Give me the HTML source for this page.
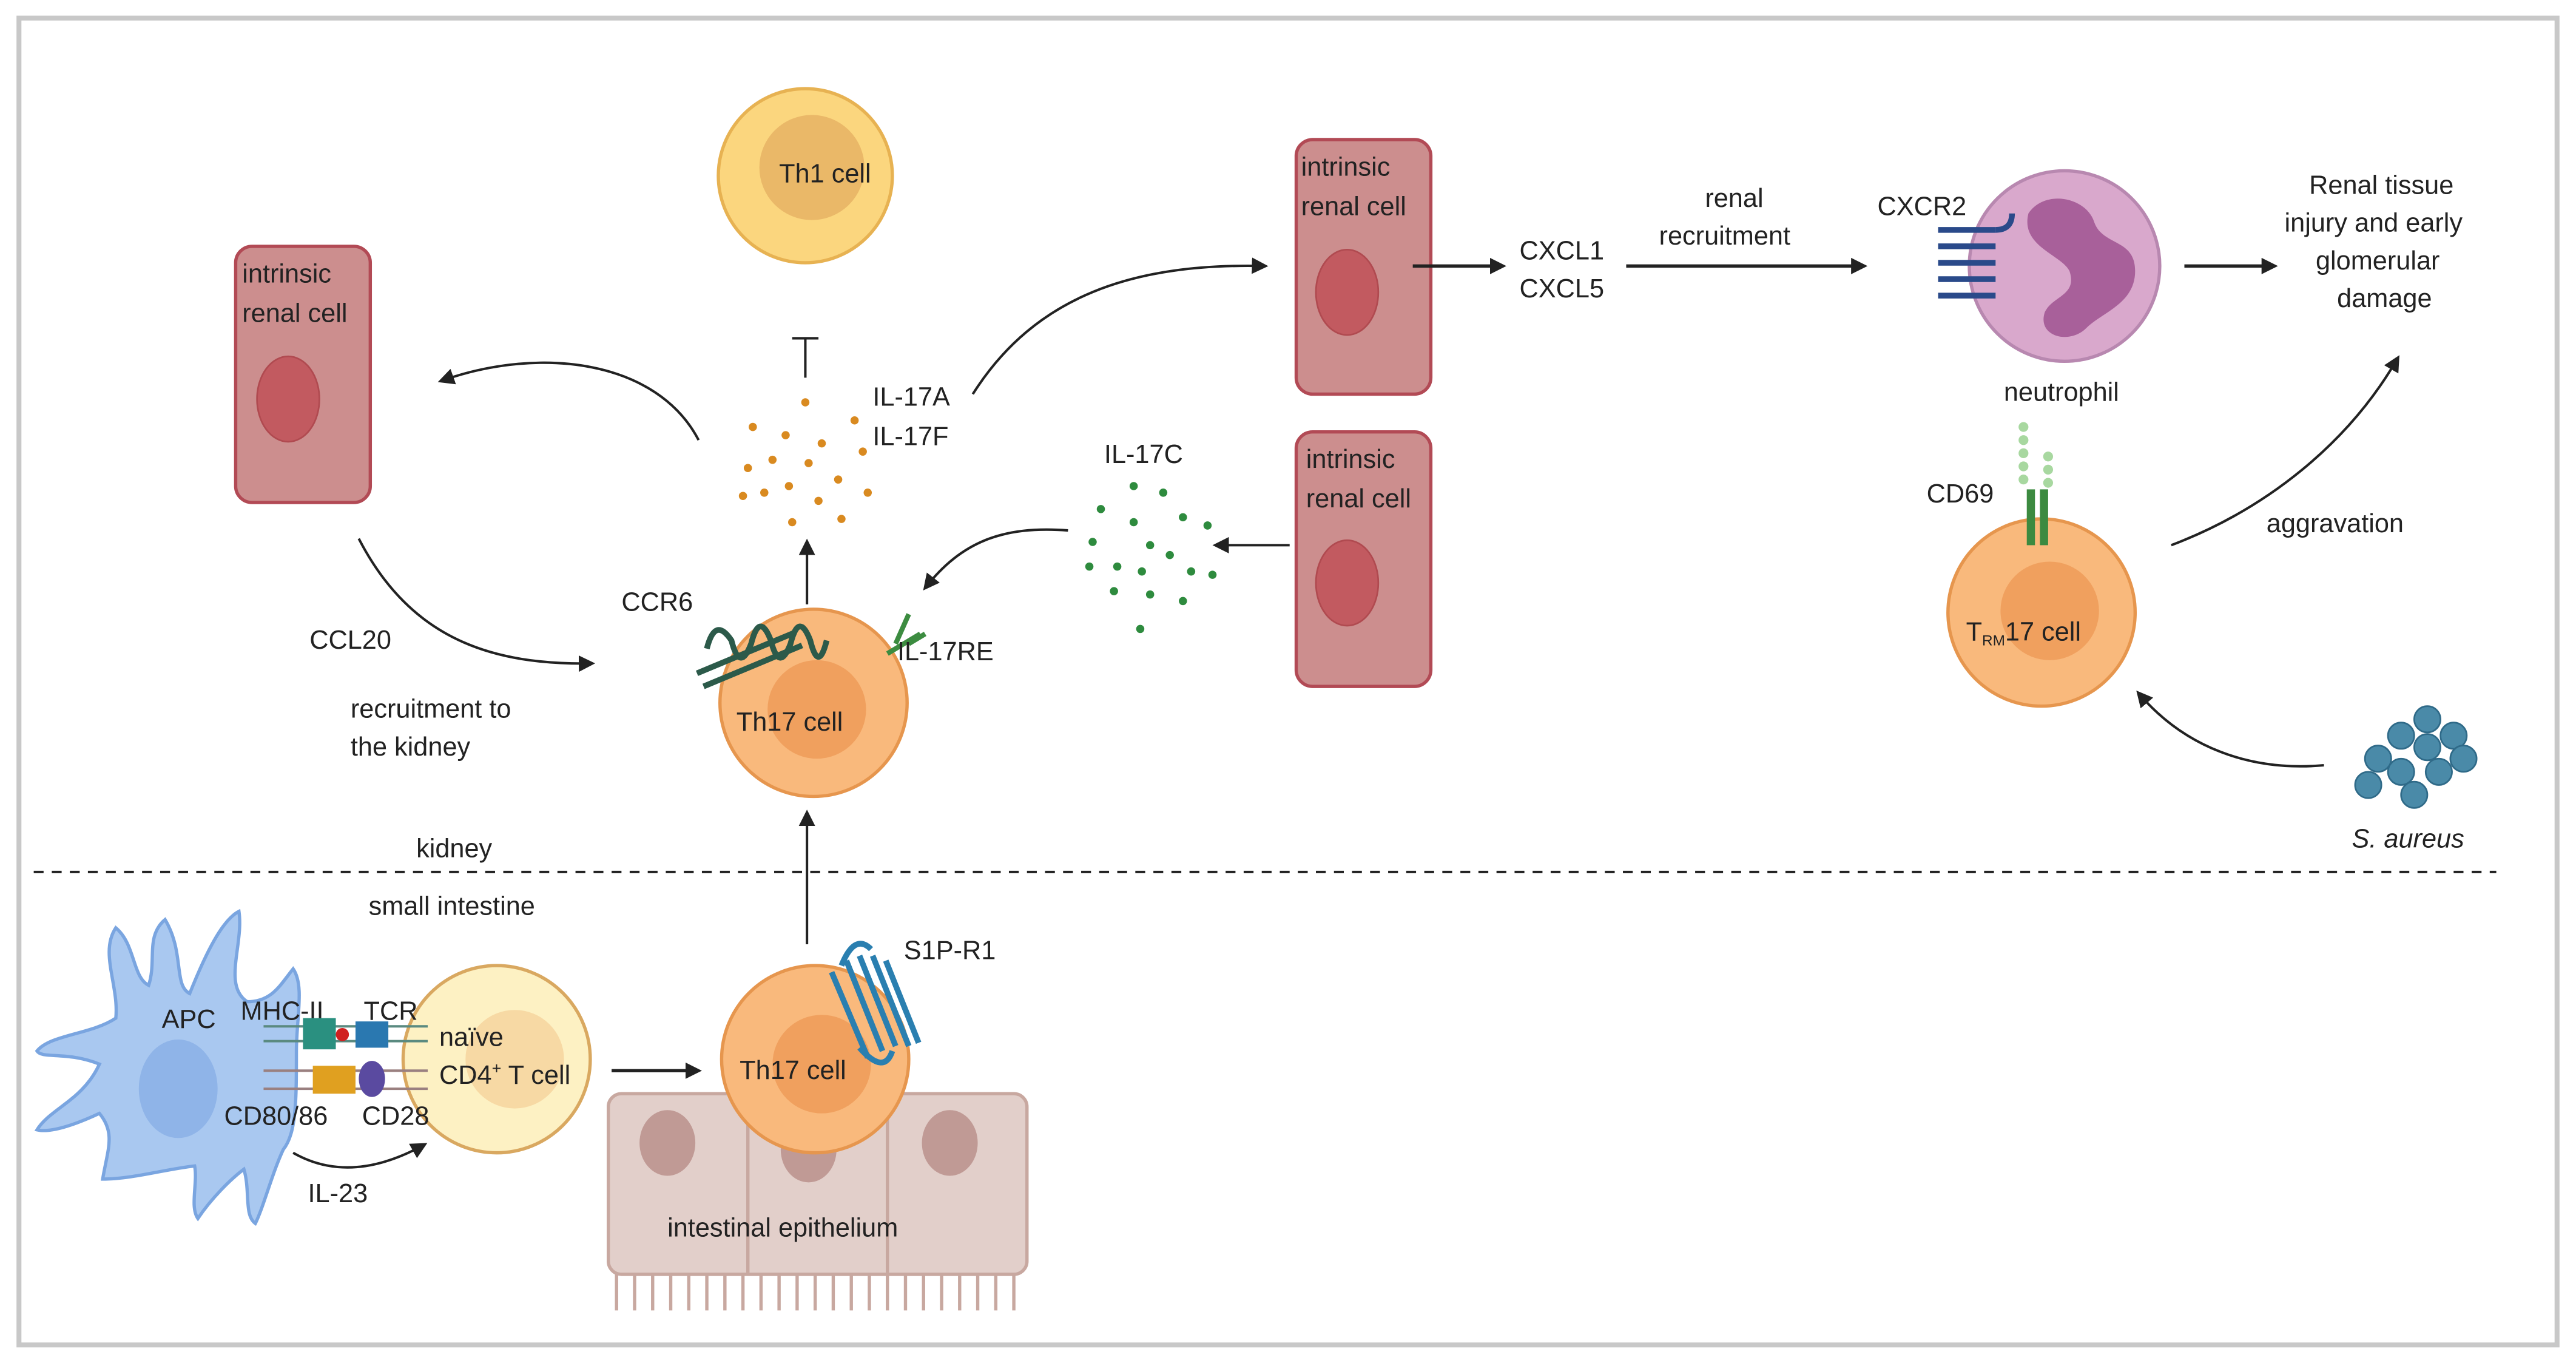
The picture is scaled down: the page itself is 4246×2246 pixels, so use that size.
<!DOCTYPE html>
<html><head><meta charset="utf-8"><style>
html,body{margin:0;padding:0;background:#fff;width:4246px;height:2246px;overflow:hidden}
svg{display:block}
text{font-family:"Liberation Sans",sans-serif;fill:#222;font-size:16px}
</style></head><body>
<svg width="4246" height="2246" viewBox="0 0 1568 830" xmlns="http://www.w3.org/2000/svg">
<defs>
<marker id="ah" markerWidth="10" markerHeight="10" refX="8" refY="5" orient="auto" markerUnits="userSpaceOnUse"><path d="M0,0 L10,5 L0,10 Z" fill="#222"/></marker>
</defs>
<rect x="0" y="0" width="1568" height="830" fill="#fff"/>
<rect x="11" y="11" width="1546" height="808" fill="none" stroke="#c8c8c8" stroke-width="3"/>
<line x1="20" y1="531" x2="1520" y2="531" stroke="#222" stroke-width="1.5" stroke-dasharray="6,5"/>
<text x="253" y="522">kidney</text>
<text x="224" y="557">small intestine</text>

<g stroke="#b24a55" stroke-width="2" fill="#cc8e8e">
<rect x="143" y="150" width="82" height="156" rx="10"/>
<rect x="789" y="85" width="82" height="155" rx="10"/>
<rect x="789" y="263" width="82" height="155" rx="10"/>
</g>
<g fill="#c25a60" stroke="#b04a50">
<ellipse cx="175" cy="243" rx="19" ry="26"/>
<ellipse cx="820" cy="178" rx="19" ry="26"/>
<ellipse cx="820" cy="355" rx="19" ry="26"/>
</g>
<text x="147" y="172">intrinsic</text><text x="147" y="196">renal cell</text>
<text x="792" y="107">intrinsic</text><text x="792" y="131">renal cell</text>
<text x="795" y="285">intrinsic</text><text x="795" y="309">renal cell</text>

<circle cx="490" cy="107" r="53" fill="#fbd67e" stroke="#e7b252" stroke-width="2"/>
<circle cx="494" cy="102" r="32" fill="#eab868"/>
<text x="474" y="111">Th1 cell</text>
<line x1="490" y1="206" x2="490" y2="230" stroke="#222" stroke-width="1.5"/>
<line x1="482" y1="206" x2="498" y2="206" stroke="#222" stroke-width="1.5"/>

<g fill="#d98a20">
<circle cx="490" cy="245" r="2.5"/><circle cx="520" cy="256" r="2.5"/><circle cx="458" cy="260" r="2.5"/><circle cx="478" cy="265" r="2.5"/><circle cx="500" cy="270" r="2.5"/><circle cx="470" cy="280" r="2.5"/><circle cx="492" cy="282" r="2.5"/><circle cx="525" cy="275" r="2.5"/><circle cx="455" cy="285" r="2.5"/><circle cx="510" cy="292" r="2.5"/><circle cx="480" cy="296" r="2.5"/><circle cx="465" cy="300" r="2.5"/><circle cx="498" cy="305" r="2.5"/><circle cx="452" cy="302" r="2.5"/><circle cx="528" cy="300" r="2.5"/><circle cx="482" cy="318" r="2.5"/><circle cx="512" cy="316" r="2.5"/>
</g>
<text x="531" y="247">IL-17A</text><text x="531" y="271">IL-17F</text>
<g fill="#2e8b3e">
<circle cx="690" cy="296" r="2.5"/><circle cx="708" cy="300" r="2.5"/><circle cx="670" cy="310" r="2.5"/><circle cx="690" cy="318" r="2.5"/><circle cx="720" cy="315" r="2.5"/><circle cx="735" cy="320" r="2.5"/><circle cx="665" cy="330" r="2.5"/><circle cx="700" cy="332" r="2.5"/><circle cx="712" cy="338" r="2.5"/><circle cx="680" cy="345" r="2.5"/><circle cx="725" cy="348" r="2.5"/><circle cx="663" cy="345" r="2.5"/><circle cx="695" cy="348" r="2.5"/><circle cx="738" cy="350" r="2.5"/><circle cx="678" cy="360" r="2.5"/><circle cx="700" cy="362" r="2.5"/><circle cx="720" cy="366" r="2.5"/><circle cx="694" cy="383" r="2.5"/>
</g>
<text x="672" y="282">IL-17C</text>

<circle cx="495" cy="428" r="57" fill="#f9b97c" stroke="#e6964e" stroke-width="2"/>
<circle cx="497" cy="432" r="30" fill="#f0a05e"/>
<text x="448" y="445">Th17 cell</text>
<g stroke="#2c5a4a" stroke-width="3.5" fill="none">
<path d="M430,395 q5,-20 15,-5 q5,20 12,2 q5,-20 12,-2 q5,20 12,2 q5,-20 12,-2 q5,20 10,0"/>
<path d="M424,410 l60,-25 M428,418 l60,-25"/>
</g>
<g stroke="#3c8c40" stroke-width="3" fill="none"><path d="M540,398 l20,-12 M545,392 l8,-18 M553,392 l10,-6"/></g>
<text x="378" y="372">CCR6</text>
<text x="546" y="402">IL-17RE</text>

<g fill="#e2cfca" stroke="#c8a8a0" stroke-width="2">
<rect x="370" y="666" width="255" height="110" rx="8"/>
</g>
<g stroke="#c8a8a0" stroke-width="2" fill="none">
<line x1="455" y1="668" x2="455" y2="775"/><line x1="540" y1="668" x2="540" y2="775"/>
<path d="M375,776 v22 M386,776 v22 M397,776 v22 M408,776 v22 M419,776 v22 M430,776 v22 M441,776 v22 M452,776 v22 M463,776 v22 M474,776 v22 M485,776 v22 M496,776 v22 M507,776 v22 M518,776 v22 M529,776 v22 M540,776 v22 M551,776 v22 M562,776 v22 M573,776 v22 M584,776 v22 M595,776 v22 M606,776 v22 M617,776 v22"/>
</g>
<g fill="#c09a95"><ellipse cx="406" cy="696" rx="17" ry="20"/><ellipse cx="578" cy="696" rx="17" ry="20"/><ellipse cx="492" cy="700" rx="17" ry="20"/></g>
<text x="406" y="753">intestinal epithelium</text>
<circle cx="496" cy="645" r="57" fill="#f9b97c" stroke="#e6964e" stroke-width="2"/>
<circle cx="500" cy="648" r="30" fill="#f0a05e"/>
<text x="450" y="657">Th17 cell</text>
<g stroke="#2a7fb0" stroke-width="3.5" fill="none">
<path d="M515,585 l22,55 M523,582 l22,55 M531,582 l22,55 M539,585 l20,50 M506,592 l22,52"/>
<path d="M512,588 q8,-20 18,-10 M543,640 q-5,15 -20,-2"/>
</g>
<text x="550" y="584">S1P-R1</text>
<line x1="491" y1="575" x2="491" y2="495" stroke="#222" stroke-width="1.5" marker-end="url(#ah)"/>
<line x1="491" y1="368" x2="491" y2="330" stroke="#222" stroke-width="1.5" marker-end="url(#ah)"/>

<circle cx="302" cy="645" r="57" fill="#fdf1c3" stroke="#d9a860" stroke-width="2"/>
<circle cx="313" cy="645" r="30" fill="#f7d9a4"/>
<text x="267" y="637">naïve</text><text x="267" y="660">CD4<tspan font-size="10" dy="-6">+</tspan><tspan dy="6"> T cell</tspan></text>
<line x1="372" y1="652" x2="425" y2="652" stroke="#222" stroke-width="2" marker-end="url(#ah)"/>

<path d="M60,648 C40,640 25,645 22,640 C30,630 55,630 70,620 C72,600 60,580 70,565 C82,575 80,595 90,600 C95,585 88,570 100,560 C112,580 105,600 115,605 C125,580 135,560 145,555 C148,575 135,600 150,610 C165,610 170,600 178,590 C185,600 180,620 180,640 C180,670 180,690 172,700 C165,715 160,735 155,745 C148,740 152,725 148,712 C140,718 128,730 120,742 C115,735 120,720 118,710 C100,712 80,718 62,718 C65,700 70,690 60,678 C45,685 30,690 22,688 C30,675 50,670 60,648 Z" fill="#a9c8f0" stroke="#7aa5e0" stroke-width="2"/>
<ellipse cx="108" cy="663" rx="24" ry="30" fill="#8fb4e8"/>
<text x="98" y="626">APC</text>
<text x="146" y="621">MHC-II</text><text x="221" y="621">TCR</text>
<text x="136" y="685">CD80/86</text><text x="220" y="685">CD28</text>
<g stroke="#5a8a80" stroke-width="1.5"><line x1="160" y1="625" x2="260" y2="625"/><line x1="160" y1="634" x2="260" y2="634"/></g>
<rect x="184" y="620" width="20" height="19" fill="#2a9080"/><circle cx="208" cy="630" r="4" fill="#d02020"/>
<rect x="216" y="622" width="20" height="16" fill="#2a78b0"/>
<g stroke="#9a8080" stroke-width="1.5"><line x1="160" y1="652" x2="260" y2="652"/><line x1="160" y1="663" x2="260" y2="663"/></g>
<rect x="190" y="649" width="26" height="17" fill="#e0a020"/>
<ellipse cx="226" cy="657" rx="8" ry="11" fill="#5a4aa0"/>
<path d="M178,702 q35,20 80,-5" stroke="#222" stroke-width="1.5" fill="none" marker-end="url(#ah)"/>
<text x="187" y="732">IL-23</text>

<path d="M425,268 C400,220 330,210 268,232" stroke="#222" stroke-width="1.5" fill="none" marker-end="url(#ah)"/>
<path d="M218,328 C250,390 300,405 360,404" stroke="#222" stroke-width="1.5" fill="none" marker-end="url(#ah)"/>
<text x="188" y="395">CCL20</text>
<text x="213" y="437">recruitment to</text><text x="213" y="460">the kidney</text>
<path d="M592,240 C630,180 690,160 770,162" stroke="#222" stroke-width="1.5" fill="none" marker-end="url(#ah)"/>
<path d="M650,323 C610,320 585,330 563,358" stroke="#222" stroke-width="1.5" fill="none" marker-end="url(#ah)"/>
<line x1="785" y1="332" x2="740" y2="332" stroke="#222" stroke-width="1.5" marker-end="url(#ah)"/>
<line x1="860" y1="162" x2="915" y2="162" stroke="#222" stroke-width="2" marker-end="url(#ah)"/>
<text x="925" y="158">CXCL1</text><text x="925" y="181">CXCL5</text>
<line x1="990" y1="162" x2="1135" y2="162" stroke="#222" stroke-width="2" marker-end="url(#ah)"/>
<text x="1038" y="126">renal</text><text x="1010" y="149">recruitment</text>

<circle cx="1257" cy="162" r="58" fill="#d9a8cc" stroke="#b888b0" stroke-width="2"/>
<path d="M1235,130 c10,-15 35,-10 40,5 c5,15 25,10 25,30 c0,20 -20,25 -30,35 c-10,10 -30,5 -25,-10 c5,-10 20,-10 15,-25 c-5,-10 -30,-15 -25,-35z" fill="#a8609a"/>
<g stroke="#2a4a8a" stroke-width="3.5" fill="none">
<path d="M1180,140 h35 M1180,150 h35 M1180,160 h35 M1180,170 h35 M1180,180 h35"/>
<path d="M1215,140 q10,0 10,-10"/>
</g>
<text x="1143" y="131">CXCR2</text>
<text x="1220" y="244">neutrophil</text>
<line x1="1330" y1="162" x2="1385" y2="162" stroke="#222" stroke-width="2" marker-end="url(#ah)"/>
<text x="1406" y="118">Renal tissue</text><text x="1391" y="141">injury and early</text><text x="1410" y="164">glomerular</text><text x="1423" y="187">damage</text>

<circle cx="1243" cy="373" r="57" fill="#f9b97c" stroke="#e6964e" stroke-width="2"/>
<circle cx="1248" cy="372" r="30" fill="#f0a05e"/>
<text x="1197" y="390">T<tspan font-size="9" dy="3">RM</tspan><tspan dy="-3">17 cell</tspan></text>
<g fill="#a8d8a0"><circle cx="1232" cy="260" r="3"/><circle cx="1232" cy="268" r="3"/><circle cx="1232" cy="276" r="3"/><circle cx="1232" cy="284" r="3"/><circle cx="1232" cy="292" r="3"/><circle cx="1247" cy="278" r="3"/><circle cx="1247" cy="286" r="3"/><circle cx="1247" cy="294" r="3"/></g>
<rect x="1234" y="298" width="5" height="34" fill="#3c8a40"/><rect x="1242" y="298" width="5" height="34" fill="#3c8a40"/>
<text x="1173" y="306">CD69</text>
<path d="M1322,332 C1380,310 1430,270 1460,218" stroke="#222" stroke-width="1.5" fill="none" marker-end="url(#ah)"/>
<text x="1380" y="324">aggravation</text>
<path d="M1415,466 C1370,470 1330,455 1302,422" stroke="#222" stroke-width="1.5" fill="none" marker-end="url(#ah)"/>
<g fill="#4a8aa8" stroke="#2f6a88" stroke-width="1">
<circle cx="1478" cy="438" r="8"/><circle cx="1462" cy="448" r="8"/><circle cx="1494" cy="448" r="8"/><circle cx="1448" cy="462" r="8"/><circle cx="1478" cy="455" r="8"/><circle cx="1500" cy="462" r="8"/><circle cx="1462" cy="470" r="8"/><circle cx="1485" cy="470" r="8"/><circle cx="1442" cy="478" r="8"/><circle cx="1470" cy="484" r="8"/>
</g>
<text x="1432" y="516" font-style="italic">S. aureus</text>
</svg>
</body></html>
